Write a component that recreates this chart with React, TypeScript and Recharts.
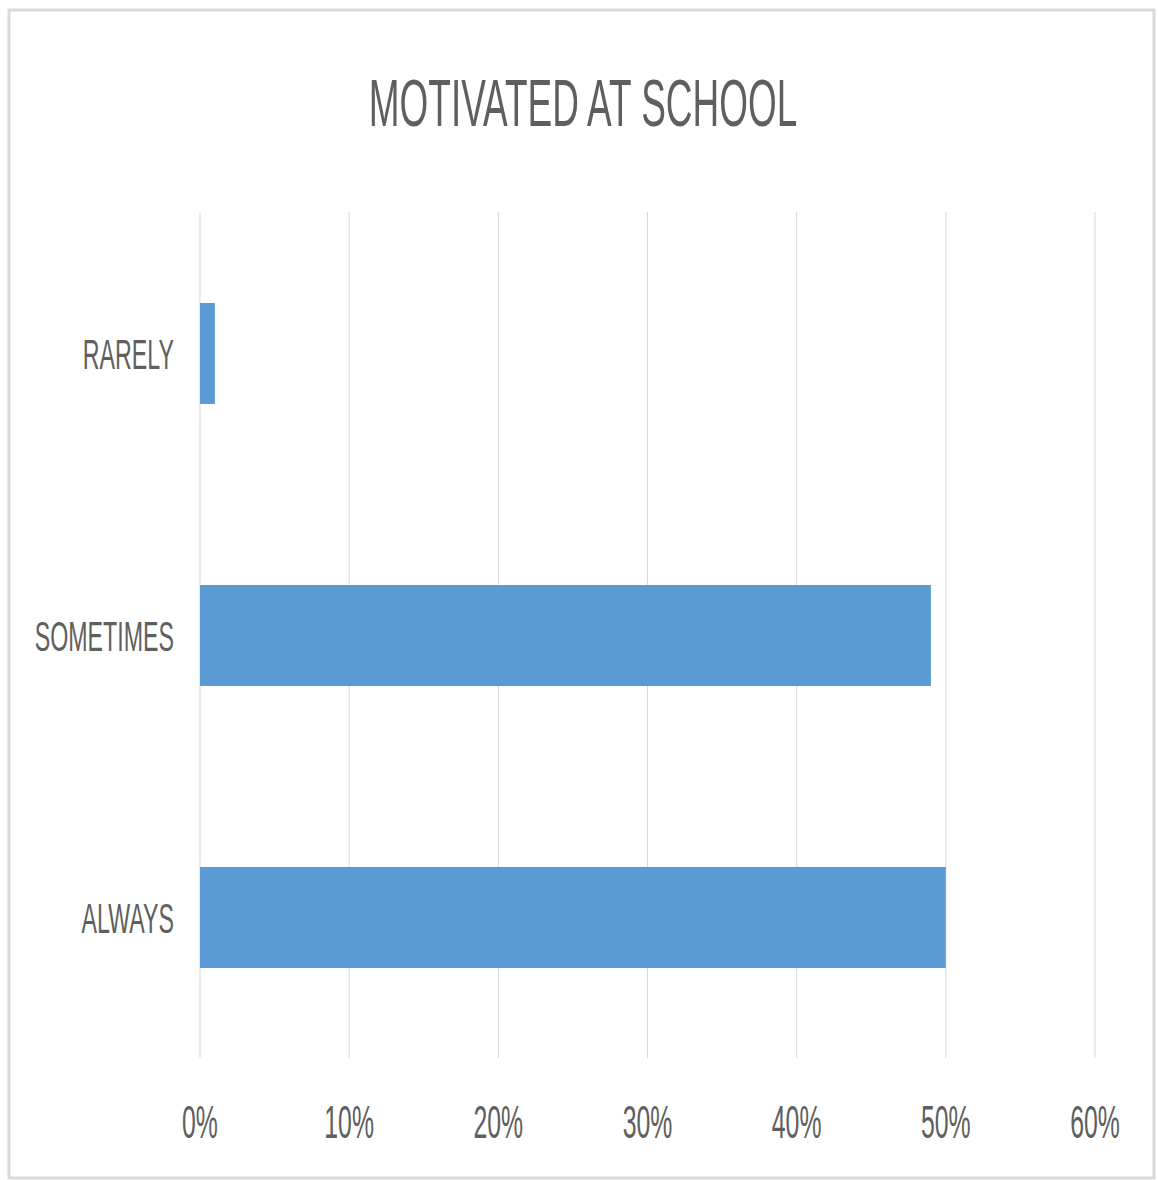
import { Bar, BarChart, CartesianGrid, XAxis, YAxis } from 'recharts';
import { ReactElement } from 'react';

const categories = ['RARELY', 'SOMETIMES', 'ALWAYS'];
const shares = [0.01, 0.49, 0.5];
const tickValues = [0, 0.1, 0.2, 0.3, 0.4, 0.5, 0.6];
const tickLabels = ['0%', '10%', '20%', '30%', '40%', '50%', '60%'];

const chartData = categories.map((name, i) => ({ name, value: shares[i] }));

const FONT = '"Liberation Sans", Arial, sans-serif';
const TEXT = '#5f5f5f';
const SQUEEZE = 0.54;

const CategoryTick = (props: any) => {
  const { y, payload } = props;
  return (
    <text
      transform={`translate(174,${y + 15.5}) scale(${SQUEEZE},1)`}
      textAnchor="end"
      fill={TEXT}
      fontFamily={FONT}
      fontSize={43}
    >
      {payload.value}
    </text>
  );
};

const PercentTick = (props: any) => {
  const { x, y, payload } = props;
  const idx = tickValues.indexOf(payload.value);
  return (
    <text
      transform={`translate(${x},${y + 72}) scale(${SQUEEZE},1)`}
      textAnchor="middle"
      fill={TEXT}
      fontFamily={FONT}
      fontSize={46}
    >
      {idx >= 0 ? tickLabels[idx] : ''}
    </text>
  );
};

export default function App(): ReactElement {
  return (
    <div style={{ position: 'absolute', left: 0, top: 0, width: 1158, height: 1180, background: '#fff' }}>
      <svg width={1158} height={1180} style={{ position: 'absolute', left: 0, top: 0 }}>
        <rect x={9} y={10} width={1145} height={1168} fill="#fff" stroke="#d9d9d9" strokeWidth={3} />
        <text
          transform={`translate(583,126) scale(0.56,1)`}
          textAnchor="middle"
          fill={TEXT}
          fontFamily={FONT}
          fontSize={66}
        >
          MOTIVATED AT SCHOOL
        </text>
      </svg>
      <div style={{ position: 'absolute', left: 0, top: 0 }}>
        <BarChart
          width={1158}
          height={1180}
          data={chartData}
          layout="vertical"
          margin={{ top: 212, right: 63, bottom: 0, left: 0 }}
        >
          <CartesianGrid horizontal={false} stroke="#d9d9d9" />
          <XAxis
            type="number"
            domain={[0, 0.6]}
            ticks={tickValues}
            axisLine={false}
            tickLine={false}
            height={122}
            tick={<PercentTick />}
          />
          <YAxis
            type="category"
            dataKey="name"
            width={200}
            axisLine={false}
            tickLine={false}
            tick={<CategoryTick />}
          />
          <Bar dataKey="value" fill="#5b9bd5" barSize={101} isAnimationActive={false} />
        </BarChart>
      </div>
    </div>
  );
}
